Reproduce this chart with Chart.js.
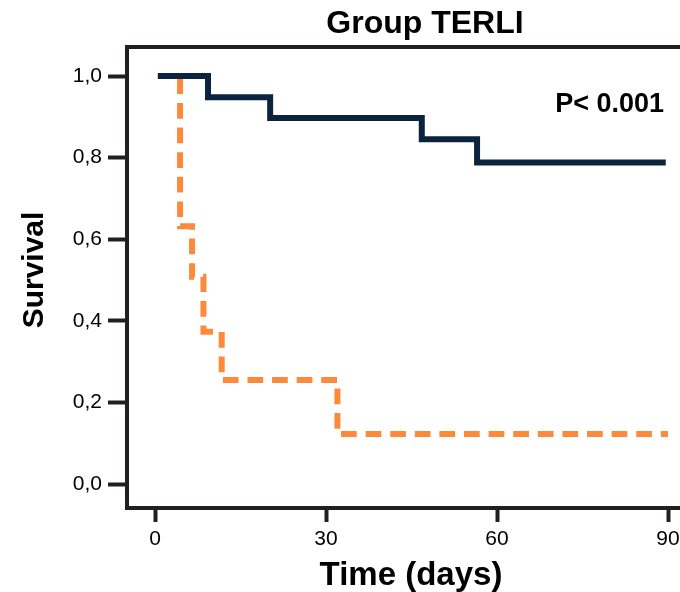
<!DOCTYPE html>
<html>
<head>
<meta charset="utf-8">
<script src="https://cdn.jsdelivr.net/npm/chart.js@4.4.1/dist/chart.umd.min.js"></script>
<style>
  html, body { margin: 0; padding: 0; background: #ffffff; overflow: hidden; }
  #wrap { width: 680px; height: 592px; position: relative; }
  canvas { display: block; }
</style>
</head>
<body>
<div id="wrap"><canvas id="c" width="680" height="592"></canvas></div>
<script>
// ---- data ----
const chartTitle = "Group TERLI";
const xAxisTitle = "Time (days)";
const yAxisTitle = "Survival";
const pValueText = "P< 0.001";

const seriesNames = ["TERLI responders", "TERLI non-responders"];

// Kaplan-Meier steps: value applies from the given day onward
const blueDays   = [0.5, 9.3, 20.2, 46.8, 56.5, 89.6];
const blueSurv   = [1.0, 0.948, 0.897, 0.845, 0.788, 0.788];

const orangeDays = [0.5, 4.4, 6.5, 8.5, 11.7, 32.0, 90.0];
const orangeSurv = [1.0, 0.632, 0.508, 0.373, 0.255, 0.1225, 0.1225];

const xTickValues = [0, 30, 60, 90];
const yTickValues = [0, 0.2, 0.4, 0.6, 0.8, 1.0];

// ---- styles ----
const AXIS_COLOR = '#231f20';
const BLUE = '#0c2340';
const ORANGE = '#fd8a3a';
const FONT = '"Liberation Sans", Arial, Helvetica, sans-serif';

const toPoints = (xs, ys) => xs.map((x, i) => ({ x: x, y: ys[i] }));

const textPlugin = {
  id: 'texts',
  afterDraw(chart) {
    const ctx = chart.ctx;
    const xs = chart.scales.x;
    const ys = chart.scales.y;
    ctx.save();
    ctx.fillStyle = '#000000';
    ctx.textBaseline = 'alphabetic';

    // chart title
    ctx.font = 'bold 32px ' + FONT;
    ctx.textAlign = 'center';
    ctx.fillText(chartTitle, 425, 33);

    // p-value annotation, anchored to the data scales
    ctx.font = 'bold 27px ' + FONT;
    ctx.textAlign = 'right';
    ctx.fillText(pValueText, xs.getPixelForValue(89.3), ys.getPixelForValue(0.912));

    // x axis title
    ctx.font = 'bold 33px ' + FONT;
    ctx.textAlign = 'center';
    ctx.fillText(xAxisTitle, 411, 585);

    // y axis title (rotated)
    ctx.save();
    ctx.translate(43, 270);
    ctx.rotate(-Math.PI / 2);
    ctx.font = 'bold 30px ' + FONT;
    ctx.textAlign = 'center';
    ctx.fillText(yAxisTitle, 0, 0);
    ctx.restore();

    ctx.restore();
  }
};

new Chart(document.getElementById('c'), {
  type: 'line',
  data: {
    datasets: [
      {
        label: seriesNames[0],
        data: toPoints(blueDays, blueSurv),
        borderColor: BLUE,
        backgroundColor: BLUE,
        borderWidth: 6,
        stepped: 'before',
        pointRadius: 0,
        fill: false,
        borderCapStyle: 'butt',
        borderJoinStyle: 'miter'
      },
      {
        label: seriesNames[1],
        data: toPoints(orangeDays, orangeSurv),
        borderColor: ORANGE,
        backgroundColor: ORANGE,
        borderWidth: 6,
        borderDash: [15.7, 8.9],
        stepped: 'before',
        pointRadius: 0,
        fill: false,
        borderCapStyle: 'butt',
        borderJoinStyle: 'miter'
      }
    ]
  },
  options: {
    responsive: false,
    animation: false,
    devicePixelRatio: 1,
    layout: { padding: { top: 47, right: 0, bottom: 0, left: 0 } },
    plugins: {
      legend: { display: false },
      tooltip: { enabled: false },
      title: { display: false }
    },
    scales: {
      x: {
        type: 'linear',
        position: 'bottom',
        min: -4.912,
        max: 92.1,
        afterBuildTicks: (s) => { s.ticks = xTickValues.map(v => ({ value: v })); },
        afterFit: (s) => { s.height = 84; s.paddingLeft = 0; s.paddingRight = 0; },
        ticks: {
          color: '#000000',
          font: { family: FONT, size: 21 },
          padding: 5,
          maxRotation: 0,
          autoSkip: false,
          callback: (v) => String(v)
        },
        grid: {
          display: true,
          drawOnChartArea: false,
          drawTicks: true,
          tickLength: 14,
          tickWidth: 4,
          tickColor: AXIS_COLOR,
          color: AXIS_COLOR
        },
        border: { display: true, width: 4, color: AXIS_COLOR }
      },
      x2: {
        type: 'linear',
        position: 'top',
        display: true,
        afterFit: (s) => { s.height = 0; s.paddingLeft = 0; s.paddingRight = 0; },
        ticks: { display: false },
        grid: { display: true, drawOnChartArea: false, drawTicks: false },
        border: { display: true, width: 4, color: AXIS_COLOR }
      },
      y: {
        type: 'linear',
        position: 'left',
        min: -0.0588,
        max: 1.0711,
        afterBuildTicks: (s) => { s.ticks = yTickValues.map(v => ({ value: v })); },
        afterFit: (s) => { s.width = 127; s.paddingTop = 0; s.paddingBottom = 0; },
        ticks: {
          color: '#000000',
          font: { family: FONT, size: 21 },
          padding: 6,
          autoSkip: false,
          callback: (v) => Number(v).toFixed(1).replace('.', ',')
        },
        grid: {
          display: true,
          drawOnChartArea: false,
          drawTicks: true,
          tickLength: 19,
          tickWidth: 4,
          tickColor: AXIS_COLOR,
          color: AXIS_COLOR
        },
        border: { display: true, width: 4, color: AXIS_COLOR }
      }
    }
  },
  plugins: [textPlugin]
});
</script>
</body>
</html>
